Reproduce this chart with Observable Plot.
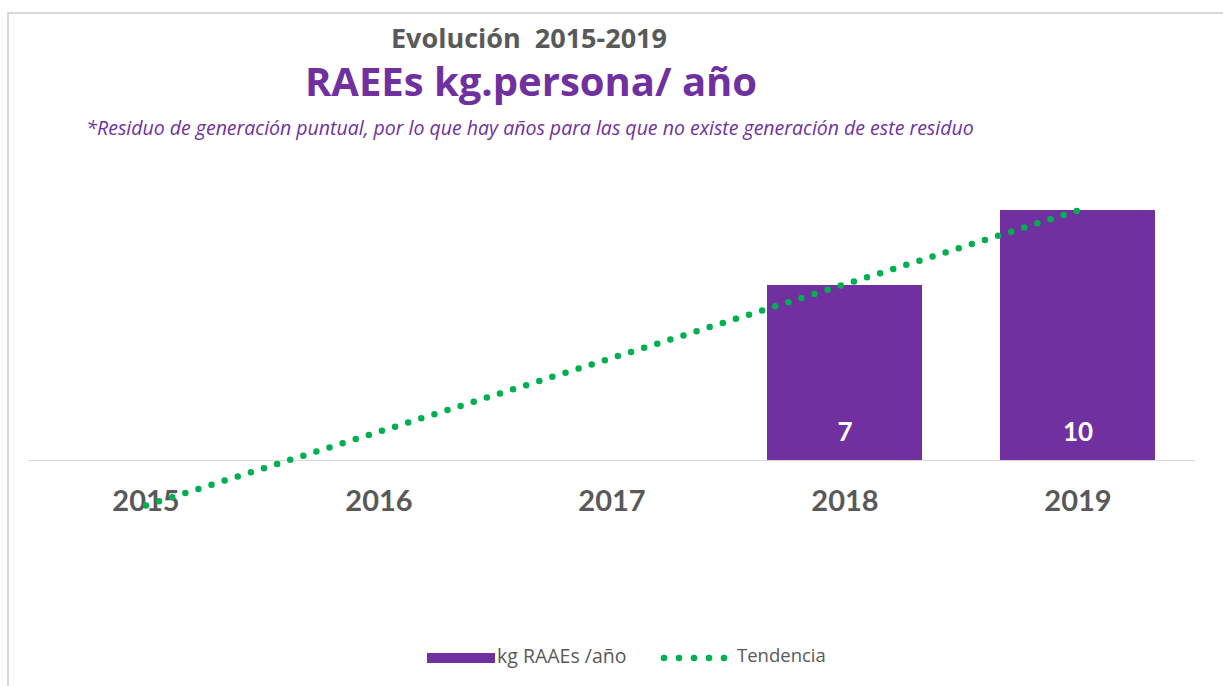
<!DOCTYPE html>
<html>
<head>
<meta charset="utf-8">
<script src="https://cdn.jsdelivr.net/npm/d3@7"></script>
<script src="https://cdn.jsdelivr.net/npm/@observablehq/plot@0.6"></script>
<style>
  html, body { margin: 0; padding: 0; background: #fff; }
  #page { position: relative; width: 1223px; height: 686px; overflow: hidden; background: #fff; font-family: Lato, "Open Sans", sans-serif; }
  #frame { position: absolute; left: 7px; top: 12px; width: 1400px; height: 900px; border-top: 2px solid #d9d9d9; border-left: 2px solid #d9d9d9; }
  .t { position: absolute; white-space: nowrap; transform: translateX(-50%); line-height: 1; }
  #t1 { left: 529px; top: 24px; font-family: "Open Sans", sans-serif; font-size: 27px; font-weight: 700; color: #595959; }
  #t2 { left: 531px; top: 61px; font-family: "Open Sans", sans-serif; font-size: 40px; font-weight: 700; color: #7030A0; }
  #t3 { left: 530px; top: 118px; font-family: "Open Sans", sans-serif; font-size: 19.5px; font-style: italic; color: #7030A0; }
  #chart { position: absolute; left: 0; top: 150px; }
  .lg { position: absolute; line-height: 1; white-space: nowrap; font-family: "Open Sans", sans-serif; font-size: 18.5px; color: #595959; }
</style>
</head>
<body>
<div id="page">
  <div id="frame"></div>
  <div class="t" id="t1">Evolución&nbsp; 2015-2019</div>
  <div class="t" id="t2">RAEEs kg.persona/ año</div>
  <div class="t" id="t3">*Residuo de generación puntual, por lo que hay años para las que no existe generación de este residuo</div>
  <div id="chart"></div>
  <div class="lg" style="left:427px;top:653px;width:68px;height:10px;background:#7030A0"></div>
  <div class="lg" style="left:497px;top:646px;font-size:19.5px">kg RAAEs /año</div>
  <svg class="lg" style="left:660px;top:648px" width="70" height="20">
    <circle cx="4" cy="10" r="3.3" fill="#00B050"/><circle cx="19" cy="10" r="3.3" fill="#00B050"/><circle cx="34" cy="10" r="3.3" fill="#00B050"/><circle cx="49" cy="10" r="3.3" fill="#00B050"/><circle cx="64" cy="10" r="3.3" fill="#00B050"/>
  </svg>
  <div class="lg" style="left:737px;top:646px">Tendencia</div>
</div>
<script>
const years = ["2015", "2016", "2017", "2018", "2019"];
const kgValues = [null, null, null, 7, 10];
const trendValues = [-1.8, 1.15, 4.1, 7.05, 10.0];

const bars = years.map((y, i) => ({year: y, value: kgValues[i]})).filter(d => d.value != null);
const trend = years.map((y, i) => ({year: y, value: trendValues[i]}));

const chart = Plot.plot({
  width: 1223,
  height: 400,
  marginLeft: 28,
  marginRight: 28,
  marginTop: 0,
  marginBottom: 0,
  x: {domain: years, paddingInner: 0.336, paddingOuter: 0.168, axis: null},
  y: {domain: [-3.6, 12.4], axis: null},
  style: {fontFamily: "Lato, 'Open Sans', sans-serif", background: "transparent"},
  marks: [
    Plot.barY(bars, {x: "year", y: "value", fill: "#7030A0"}),
    Plot.ruleY([0], {stroke: "#d9d9d9", strokeWidth: 1.2}),
    Plot.text(years, {x: d => d, y: () => 0, dy: 41, text: d => d, fill: "#595959", fontSize: 29, fontWeight: 700}),
    Plot.text(bars, {x: "year", y: () => 0, dy: -28, text: d => String(d.value), fill: "#ffffff", fontSize: 26, fontWeight: 700}),
    Plot.line(trend, {x: "year", y: "value", stroke: "#00B050", strokeWidth: 6.5, strokeLinecap: "round", strokeDasharray: "0 13.75"})
  ]
});
document.getElementById("chart").appendChild(chart);
</script>
</body>
</html>
